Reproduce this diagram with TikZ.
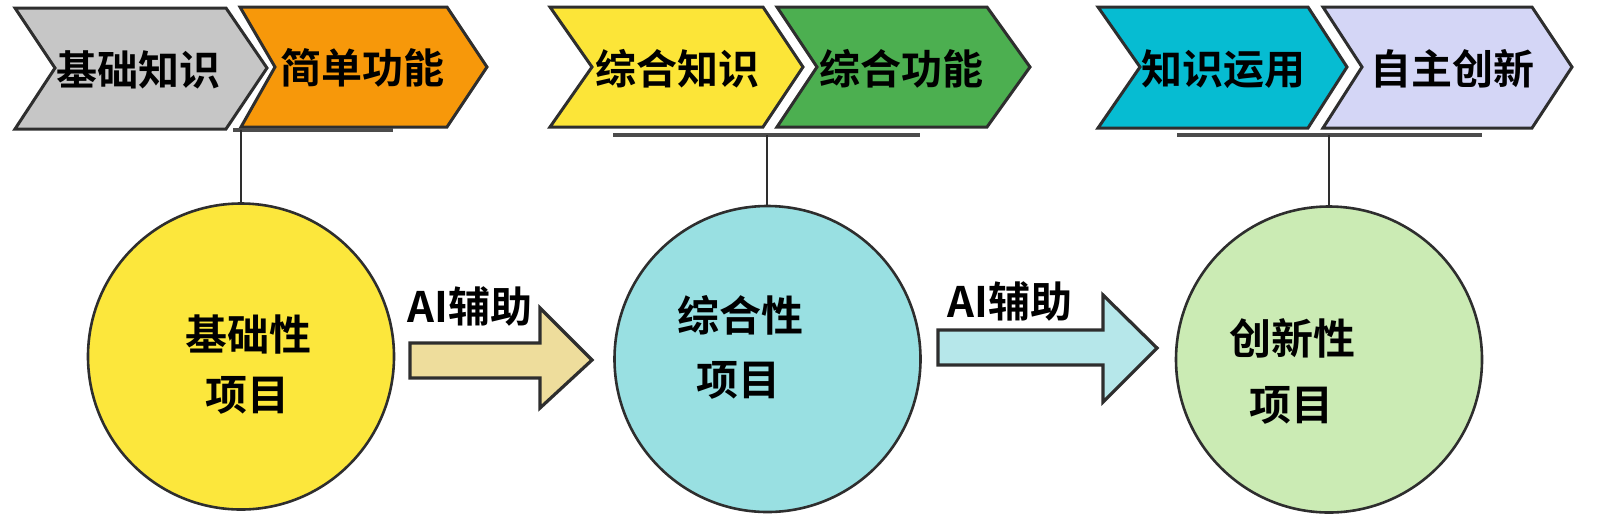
\documentclass[tikz,border=0pt]{standalone}
\usepackage{fontspec}
\setmainfont{Noto Sans CJK SC}[BoldFont={Noto Sans CJK SC Bold}]
\definecolor{cgray}{HTML}{C6C6C6}
\definecolor{corange}{HTML}{F7980A}
\definecolor{cyellow}{HTML}{FCE538}
\definecolor{cgreen}{HTML}{4CAF50}
\definecolor{ccyan}{HTML}{06BCD2}
\definecolor{clav}{HTML}{D4D6F6}
\definecolor{pyellow}{HTML}{FCE73C}
\definecolor{pcyan}{HTML}{99E0E2}
\definecolor{pgreen}{HTML}{CBEBB4}
\definecolor{atan}{HTML}{EEDD9C}
\definecolor{acyan}{HTML}{B6E7EA}
\definecolor{edge}{HTML}{2E2E2E}
\begin{document}
\begin{tikzpicture}[x=0.5pt,y=-0.5pt,
  chev/.style={draw=edge, line width=1.5pt, line join=miter},
  lbl/.style={font=\bfseries\fontsize{20.5}{24}\selectfont, inner sep=0pt},
  proj/.style={circle, draw=edge, line width=1.3pt, minimum size=153pt, inner sep=0pt},
  ctext/.style={font=\bfseries\fontsize{21}{25}\selectfont, inner sep=0pt},
  atext/.style={font=\bfseries\fontsize{21}{25}\selectfont, inner sep=0pt},
  bar/.style={draw=black!70, line width=1.6pt},
  stem/.style={draw=edge, line width=1.1pt},
  bigarrow/.style={draw=edge, line width=1.6pt, line join=miter}]
\useasboundingbox (0,0) rectangle (1600,516);

% chevrons
\filldraw[chev, fill=cgray] (15,8) -- (226,8) -- (267,68) -- (226,129) -- (15,129) -- (55,68) -- cycle;
\filldraw[chev, fill=corange] (240,7) -- (447,7) -- (487,67) -- (447,127) -- (241,127) -- (275,67) -- cycle;
\filldraw[chev, fill=cyellow] (550,7) -- (763,7) -- (803,67) -- (763,127) -- (550,127) -- (592,67) -- cycle;
\filldraw[chev, fill=cgreen] (777,7) -- (987,7) -- (1030,67) -- (987,127) -- (777,127) -- (817,67) -- cycle;
\filldraw[chev, fill=ccyan] (1098,7) -- (1308,7) -- (1347,67) -- (1308,128) -- (1098,128) -- (1140,67) -- cycle;
\filldraw[chev, fill=clav] (1323,7) -- (1532,7) -- (1572,67) -- (1532,128) -- (1323,128) -- (1362,67) -- cycle;

\node[lbl] (k1) at (138,70) {基础知识};
\node[lbl] (k2) at (362,68) {简单功能};
\node[lbl] (k3) at (677,69) {综合知识};
\node[lbl] (k4) at (901,69) {综合功能};
\node[lbl] (k5) at (1223,69) {知识运用};
\node[lbl] (k6) at (1452,69) {自主创新};

% bars
\coordinate (b1l) at (233,130); \coordinate (b1r) at (393,130);
\coordinate (b2l) at (613,135); \coordinate (b2r) at (920,135);
\coordinate (b3l) at (1177,135); \coordinate (b3r) at (1482,135);
\draw[bar] (b1l) -- (b1r);
\draw[bar] (b2l) -- (b2r);
\draw[bar] (b3l) -- (b3r);
\coordinate (s1) at (241,130);
\coordinate (s2) at (767,135);
\coordinate (s3) at (1329,135);

% circles
\node[proj, fill=pyellow] (p1) at (241,356.5) {};
\node[proj, fill=pcyan] (p2) at (767.5,359) {};
\node[proj, fill=pgreen] (p3) at (1329,359.5) {};

\draw[stem] (s1) -- (s1 |- p1.north);
\draw[stem] (s2) -- (s2 |- p2.north);
\draw[stem] (s3) -- (s3 |- p3.north);

\node[ctext] (t1a) at (248,335) {基础性};
\node[ctext] (t1b) at (247,395) {项目};
\node[ctext] (t2a) at (740,315) {综合性};
\node[ctext] (t2b) at (738,380) {项目};
\node[ctext] (t3a) at (1292,338) {创新性};
\node[ctext] (t3b) at (1291,405) {项目};

% big arrows
\filldraw[bigarrow, fill=atan] (410,343) -- (540,343) -- (540,308) -- (592,360) -- (540,408) -- (540,378) -- (410,378) -- cycle;
\filldraw[bigarrow, fill=acyan] (938,330) -- (1103,330) -- (1103,295) -- (1157,348) -- (1103,402) -- (1103,365) -- (938,365) -- cycle;
\node[atext] (a1) at (470,306) {AI辅助};
\node[atext] (a2) at (1010,301) {AI辅助};
\end{tikzpicture}
\end{document}
